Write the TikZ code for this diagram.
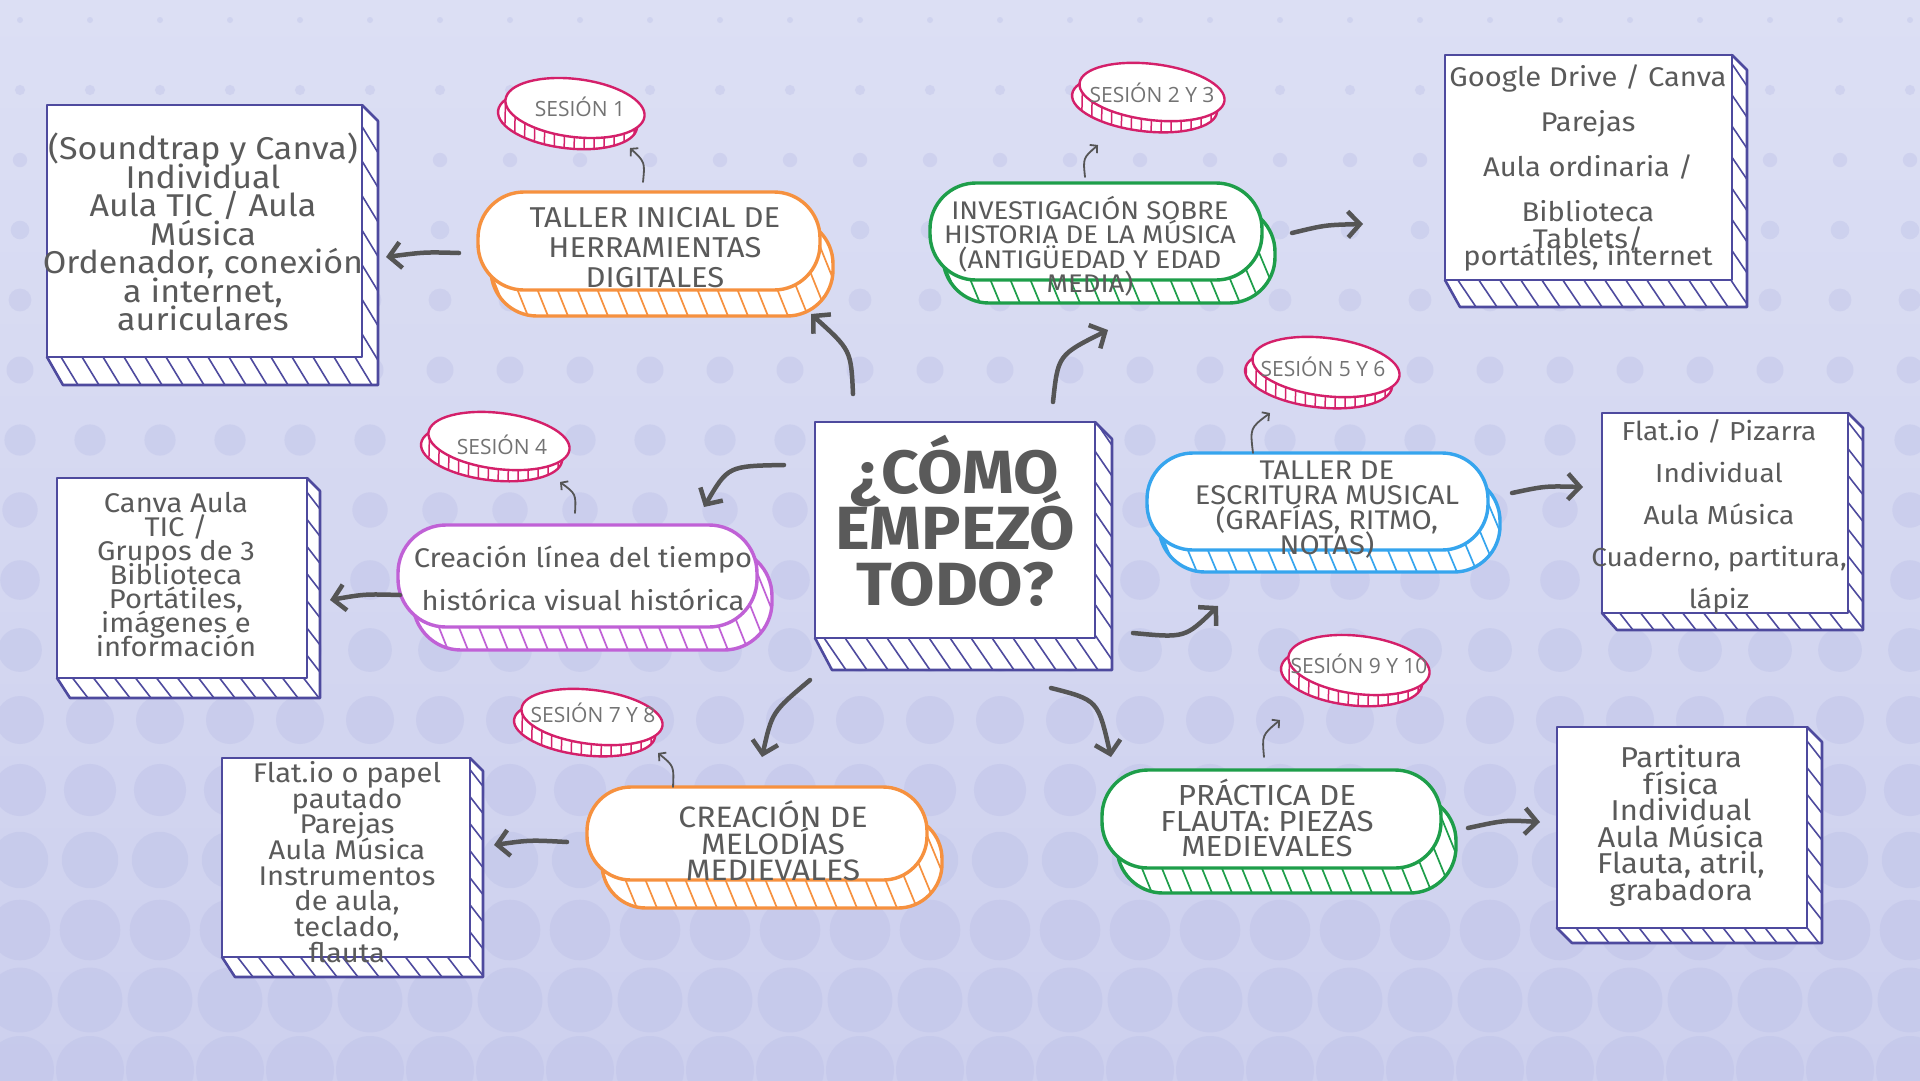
\documentclass[tikz,border=0pt]{standalone}
\usepackage{fontspec}
\setmainfont{Fira Sans}[FakeStretch=1.08]
\newfontfamily\sesfont{Open Sans}
\usetikzlibrary{arrows.meta}
\definecolor{bgtop}{HTML}{DCDFF4}
\definecolor{bgbot}{HTML}{CDD0EE}
\definecolor{dotc}{HTML}{B9BDE6}
\definecolor{ink}{HTML}{5A5A5A}
\definecolor{boxc}{HTML}{4E4A9E}
\definecolor{orng}{HTML}{F6913F}
\definecolor{grn}{HTML}{1E9E4A}
\definecolor{blu}{HTML}{36A5EE}
\definecolor{purp}{HTML}{C061D6}
\definecolor{mag}{HTML}{D4206A}
\definecolor{arr}{HTML}{555555}

% x1 y1 x2 y2 dx dy colour
\newcommand{\solidbox}[7]{%
  \path[fill=white,draw=#7,line width=2.6,line join=round]
    (#1,#4) -- ({#1+#5},{#4+#6}) -- ({#3+#5},{#4+#6}) -- ({#3+#5},{#2+#5}) -- (#3,#2) -- cycle;
  \begin{scope}
    \clip (#1,#4) -- ({#1+#5},{#4+#6}) -- ({#3+#5},{#4+#6}) -- ({#3+#5},{#2+#5}) -- (#3,#2) -- cycle;
    \foreach \k in {0,21,...,580} \draw[#7,line width=1.6] ({#1-160+\k},#2) -- ++(170,{#4+#6-#2});
  \end{scope}
  \draw[fill=white,draw=#7,line width=2.6,line join=round] (#1,#2) rectangle (#3,#4);
}
% x1 y1 x2 y2 dx dy colour radius
\newcommand{\solidoval}[8]{%
  \path[fill=white,draw=#7,line width=3.4,rounded corners=#8] ({#1+#5},{#2+#6}) rectangle ({#3+#5},{#4+#6});
  \begin{scope}
    \clip[rounded corners=#8] ({#1+#5},{#2+#6}) rectangle ({#3+#5},{#4+#6});
    \foreach \k in {0,20,...,500} \draw[#7,line width=1.7] ({#1-60+\k},#2) -- ++(50,{#4+#6-#2});
  \end{scope}
  \draw[fill=white,draw=#7,line width=3.4,rounded corners=#8] (#1,#2) rectangle (#3,#4);
}
% cx cy rx ry
\newcommand{\sespill}[4]{%
  \begin{scope}[shift={(#1,#2)},rotate=-7]
    \path[fill=white,draw=mag,line width=2.4] (-6,12) ellipse ({#3} and {#4});
    \begin{scope}
      \clip (-6,12) ellipse ({#3} and {#4});
      \foreach \k in {-90,-80,...,90} \draw[mag,line width=1.5] (\k,0) -- ++(5,50);
    \end{scope}
    \draw[fill=white,draw=mag,line width=2.4] (0,0) ellipse ({#3} and {#4});
  \end{scope}
}

\tikzset{
  txt/.style={text=ink,align=center,inner sep=0pt},
  ses/.style={text=ink!85,inner sep=0pt,font=\sesfont\fontsize{21}{22}\selectfont},
  bigarrow/.style={draw=arr,line width=4.5pt,line cap=round,
    -{Straight Barb[length=12pt,width=26pt,line width=4.5pt]}},
  smallarrow/.style={draw=arr,line width=1.8pt,line cap=round,
    -{Straight Barb[length=5pt,width=11pt,line width=1.8pt]}},
}

\begin{document}
\lineskiplimit=-500pt
\begin{tikzpicture}[x=1pt,y=-1pt]
\useasboundingbox (0,0) rectangle (1920,1080);
\fill[top color=bgtop,bottom color=bgbot] (0,0) rectangle (1920,1080);
\begin{scope}
\clip (0,0) rectangle (1920,1080);
\foreach \r in {0,...,15}{
  \foreach \c in {0,...,28}{
    \pgfmathsetmacro\yy{20+70*\r}
    \pgfmathsetmacro\rad{min(34,3+0.03*(\yy-20))}
    \fill[dotc,opacity=0.35] ({20+70*\c},\yy) circle (\rad);
  }
}
\end{scope}

% ---- central box
\solidbox{815}{422}{1095}{638}{17}{32}{boxc}
\node[txt,font=\fontsize{61}{56}\selectfont\bfseries] (center) at (955,521) {¿CÓMO\\EMPEZÓ\\TODO?};

% ---- resource boxes
\solidbox{47}{105}{362}{357}{16}{28}{boxc}
\node[txt,font=\fontsize{31.5}{28.5}\selectfont] (m1) at (203,232)
  {(Soundtrap y Canva)\\Individual\\Aula TIC / Aula\\Música\\Ordenador, conexión\\a internet,\\auriculares};

\solidbox{1445}{55}{1732}{280}{15}{27}{boxc}
\node[txt,font=\fontsize{27}{45}\selectfont] (m2) at (1588,168)
  {Google Drive / Canva\\Parejas\\Aula ordinaria /\\Biblioteca\\[-18pt]Tablets/\\[-28pt]portátiles, internet};

\solidbox{1602}{413}{1848}{613}{15}{17}{boxc}
\node[txt,font=\fontsize{26}{42}\selectfont] (m3) at (1719,517)
  {Flat.io / Pizarra\\Individual\\Aula Música\\Cuaderno, partitura,\\lápiz};

\solidbox{57}{478}{307}{678}{13}{20}{boxc}
\node[txt,font=\fontsize{27}{24}\selectfont] (m4) at (176,575)
  {Canva Aula\\TIC /\\Grupos de 3\\Biblioteca\\Portátiles,\\imágenes e\\información};

\solidbox{222}{758}{470}{957}{13}{20}{boxc}
\node[txt,font=\fontsize{27}{25.7}\selectfont] (m5) at (347,862)
  {Flat.io o papel\\pautado\\Parejas\\Aula Música\\Instrumentos\\de aula,\\teclado,\\flauta};

\solidbox{1557}{727}{1807}{928}{15}{15}{boxc}
\node[txt,font=\fontsize{28.7}{26.5}\selectfont] (m6) at (1681,826)
  {Partitura\\física\\Individual\\Aula Música\\Flauta, atril,\\grabadora};

% ---- activity ovals
\solidoval{478}{192}{820}{290}{13}{26}{orng}{46}
\node[txt,font=\fontsize{28.7}{30}\selectfont] (a1) at (655,248) {TALLER INICIAL DE\\HERRAMIENTAS\\DIGITALES};

\solidoval{930}{183}{1262}{280}{13}{23}{grn}{46}
\node[txt,font=\fontsize{25.5}{24.5}\selectfont] (a2) at (1090,246) {INVESTIGACIÓN SOBRE\\HISTORIA DE LA MÚSICA\\(ANTIGÜEDAD Y EDAD\\MEDIA)};

\solidoval{1147}{453}{1488}{550}{12}{22}{blu}{46}
\node[txt,font=\fontsize{27}{25}\selectfont] (a3) at (1327,510) {TALLER DE\\ESCRITURA MUSICAL\\(GRAFÍAS, RITMO,\\NOTAS)};

\solidoval{398}{525}{757}{627}{15}{23}{purp}{48}
\node[txt,font=\fontsize{27}{43}\selectfont] (a4) at (583,578) {Creación línea del tiempo\\histórica visual histórica};

\solidoval{587}{787}{927}{880}{15}{28}{orng}{44}
\node[txt,font=\fontsize{29.5}{26.5}\selectfont] (a5) at (773,841) {CREACIÓN DE\\MELODÍAS\\MEDIEVALES};

\solidoval{1102}{770}{1441}{868}{15}{25}{grn}{46}
\node[txt,font=\fontsize{29}{25.5}\selectfont] (a6) at (1267,818) {PRÁCTICA DE\\FLAUTA: PIEZAS\\MEDIEVALES};

% ---- session pills
\sespill{575}{108}{70}{29}
\node[ses] (s1) at (580,107) {SESIÓN 1};
\sespill{1152}{92}{73}{28}
\node[ses] (s2) at (1152,93) {SESIÓN 2 Y 3};
\sespill{1326}{367}{74}{29}
\node[ses] (s3) at (1323,367) {SESIÓN 5 Y 6};
\sespill{499}{441}{71}{28}
\node[ses] (s4) at (502,445) {SESIÓN 4};
\sespill{592}{717}{71}{27}
\node[ses] (s5) at (593,713) {SESIÓN 7 Y 8};
\sespill{1359}{665}{71}{29}
\node[ses] (s6) at (1359,664) {SESIÓN 9 Y 10};

% ---- connector end points
\coordinate (c1s) at (853,394); \coordinate (c1e) at (811,314);
\coordinate (c2s) at (1053,402); \coordinate (c2e) at (1108,330);
\coordinate (c3s) at (784,465); \coordinate (c3e) at (704,507);
\coordinate (c4s) at (1133,633); \coordinate (c4e) at (1218,606);
\coordinate (c5s) at (810,680); \coordinate (c5e) at (762,757);
\coordinate (c6s) at (1051,688); \coordinate (c6e) at (1111,757);

\coordinate (r1s) at (459,253); \coordinate (r1e) at (386,257);
\coordinate (r2s) at (1292,233); \coordinate (r2e) at (1363,224);
\coordinate (r3s) at (1512,493); \coordinate (r3e) at (1583,487);
\coordinate (r4s) at (400,595); \coordinate (r4e) at (330,600);
\coordinate (r5s) at (567,842); \coordinate (r5e) at (494,845);
\coordinate (r6s) at (1468,828); \coordinate (r6e) at (1540,822);

\coordinate (t1s) at (643,182); \coordinate (t1e) at (630,148);
\coordinate (t2s) at (1085,177); \coordinate (t2e) at (1098,145);
\coordinate (t3s) at (575,513); \coordinate (t3e) at (560,482);
\coordinate (t4s) at (1253,453); \coordinate (t4e) at (1270,413);
\coordinate (t5s) at (673,787); \coordinate (t5e) at (658,753);
\coordinate (t6s) at (1264,757); \coordinate (t6e) at (1280,720);

% ---- central arrows
\draw[bigarrow] (c1s) .. controls (851,350) .. (c1e);
\draw[bigarrow] (c2s) .. controls (1058,355) .. (c2e);
\draw[bigarrow] (c3s) .. controls (728,466) .. (c3e);
\draw[bigarrow] (c4s) .. controls (1185,638) .. (c4e);
\draw[bigarrow] (c5s) .. controls (772,712) .. (c5e);
\draw[bigarrow] (c6s) .. controls (1098,700) .. (c6e);

% ---- resource arrows
\draw[bigarrow] (r1s) .. controls (425,252) .. (r1e);
\draw[bigarrow] (r2s) .. controls (1325,225) .. (r2e);
\draw[bigarrow] (r3s) .. controls (1545,486) .. (r3e);
\draw[bigarrow] (r4s) .. controls (365,594) .. (r4e);
\draw[bigarrow] (r5s) .. controls (530,840) .. (r5e);
\draw[bigarrow] (r6s) .. controls (1505,820) .. (r6e);

% ---- session arrows
\draw[smallarrow] (t1s) .. controls (645,162) .. (t1e);
\draw[smallarrow] (t2s) .. controls (1083,158) .. (t2e);
\draw[smallarrow] (t3s) .. controls (576,494) .. (t3e);
\draw[smallarrow] (t4s) .. controls (1250,428) .. (t4e);
\draw[smallarrow] (t5s) .. controls (674,766) .. (t5e);
\draw[smallarrow] (t6s) .. controls (1262,735) .. (t6e);
\end{tikzpicture}
\end{document}
